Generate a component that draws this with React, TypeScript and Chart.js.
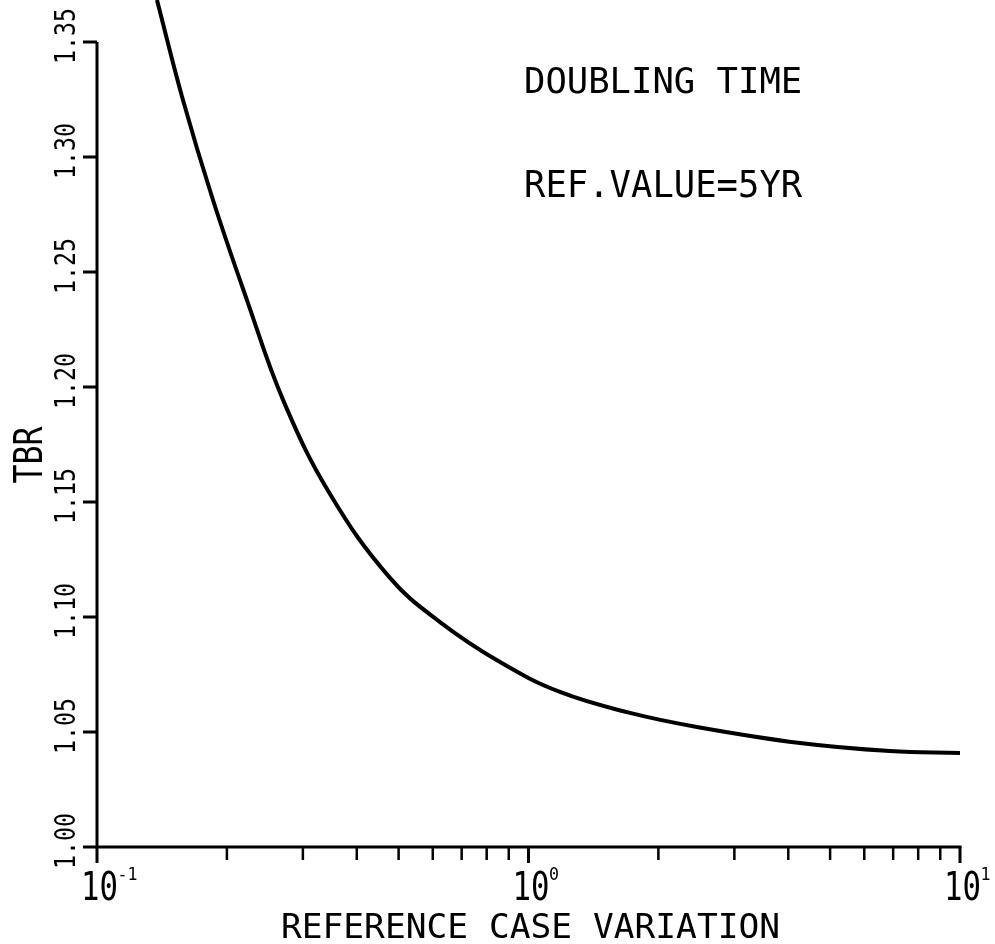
import React, { useEffect, useRef } from "react";
import { Chart, registerables } from "chart.js";

Chart.register(...registerables);

// ---- data ----
const caseVariation = [0.1377, 0.1582, 0.1857, 0.2226, 0.27, 0.3467, 0.4775, 0.6236, 0.859, 1.183, 1.719, 2.456, 4.26, 6.88, 10];
const tbr = [1.3683, 1.3248, 1.2813, 1.2378, 1.1943, 1.1535, 1.117, 1.0978, 1.0804, 1.0674, 1.0583, 1.0522, 1.0452, 1.0417, 1.0409];

const yTickValues = [1.0, 1.05, 1.1, 1.15, 1.2, 1.25, 1.3, 1.35];
const yTickLabels = ["1.00", "1.05", "1.10", "1.15", "1.20", "1.25", "1.30", "1.35"];
const xMajorTicks = [0.1, 1, 10];
const xMajorBase = ["10", "10", "10"];
const xMajorExp = ["-1", "0", "1"];
const xMinorTicks = [0.2, 0.3, 0.4, 0.5, 0.6, 0.7, 0.8, 0.9, 2, 3, 4, 5, 6, 7, 8, 9];
const annotationLines = ["DOUBLING TIME", "REF.VALUE=5YR"];
const xTitle = "REFERENCE CASE VARIATION";
const yTitle = "TBR";

const FONT = '"DejaVu Sans Mono", "Liberation Mono", monospace';

function drawText(
  ctx: CanvasRenderingContext2D,
  text: string,
  x: number,
  y: number,
  cap: number,
  adv: number,
  align: CanvasTextAlign,
  rot = 0
) {
  const size = cap / 0.729;
  ctx.save();
  ctx.font = `${size}px ${FONT}`;
  const natural = ctx.measureText("M").width;
  const sx = adv / natural;
  ctx.translate(x, y);
  ctx.rotate(rot);
  ctx.scale(sx, 1);
  ctx.textBaseline = "alphabetic";
  ctx.textAlign = align;
  ctx.fillStyle = "#000";
  ctx.fillText(text, 0, 0);
  ctx.restore();
}

const axesPlugin = {
  id: "plotterAxes",
  afterDraw(chart: any) {
    const ctx: CanvasRenderingContext2D = chart.ctx;
    const xs = chart.scales.x;
    const ys = chart.scales.y;
    const x0 = xs.getPixelForValue(0.1);
    const x1 = xs.getPixelForValue(10);
    const yBottom = ys.getPixelForValue(yTickValues[0]);
    const yTop = ys.getPixelForValue(yTickValues[yTickValues.length - 1]);

    ctx.save();
    ctx.strokeStyle = "#000";
    ctx.lineWidth = 3;
    ctx.lineCap = "butt";

    // axis lines
    ctx.beginPath();
    ctx.moveTo(x0, yTop);
    ctx.lineTo(x0, yBottom);
    ctx.moveTo(x0 - 1.5, yBottom);
    ctx.lineTo(x1 + 1.5, yBottom);
    ctx.stroke();

    // y ticks
    ctx.beginPath();
    yTickValues.forEach((v) => {
      const py = ys.getPixelForValue(v);
      ctx.moveTo(x0 - 14, py);
      ctx.lineTo(x0, py);
    });
    ctx.stroke();

    // x ticks
    ctx.beginPath();
    xMajorTicks.forEach((v) => {
      const px = xs.getPixelForValue(v);
      ctx.moveTo(px, yBottom);
      ctx.lineTo(px, yBottom + 16);
    });
    ctx.stroke();
    ctx.lineWidth = 2.5;
    ctx.beginPath();
    xMinorTicks.forEach((v) => {
      const px = xs.getPixelForValue(v);
      ctx.moveTo(px, yBottom);
      ctx.lineTo(px, yBottom + 13);
    });
    ctx.stroke();
    ctx.restore();

    // y tick labels (rotated)
    yTickValues.forEach((v, i) => {
      const py = ys.getPixelForValue(v);
      drawText(ctx, yTickLabels[i], 75, py - 6, 21, 14, "center", -Math.PI / 2);
    });

    // x tick labels with exponents
    xMajorTicks.forEach((v, i) => {
      const px = xs.getPixelForValue(v) + 2.5;
      drawText(ctx, xMajorBase[i], px, 900, 29, 18.5, "center");
      drawText(ctx, xMajorExp[i], px + 18, 880, 13, 10, "left");
    });

    // axis titles
    drawText(ctx, xTitle, (x0 + x1) / 2 + 2, 938, 25, 20.8, "center");
    drawText(ctx, yTitle, 42, 455, 29, 19, "center", -Math.PI / 2);

    // annotation
    drawText(ctx, annotationLines[0], 524, 93, 26, 21.4, "left");
    drawText(ctx, annotationLines[1], 524, 197, 27, 21.4, "left");
  },
};

export default function App() {
  const canvasRef = useRef<HTMLCanvasElement | null>(null);

  useEffect(() => {
    const canvas = canvasRef.current;
    if (!canvas) return;
    const points = caseVariation.map((x, i) => ({ x, y: tbr[i] }));
    const chart = new Chart(canvas, {
      type: "line",
      data: {
        datasets: [
          {
            data: points,
            borderColor: "#000",
            borderWidth: 4,
            pointRadius: 0,
            fill: false,
            tension: 0.4,
          },
        ],
      },
      options: {
        responsive: false,
        animation: false,
        devicePixelRatio: 1,
        layout: { padding: { left: 97, right: 35, top: 0, bottom: 97 } },
        plugins: { legend: { display: false }, tooltip: { enabled: false } },
        events: [],
        scales: {
          x: { type: "logarithmic", min: 0.1, max: 10, display: false },
          y: { type: "linear", min: 1.0, max: 1.35 + 42 / 2300, display: false },
        },
      },
      plugins: [axesPlugin],
    } as any);
    return () => chart.destroy();
  }, []);

  return (
    <div style={{ position: "fixed", left: 0, top: 0, width: 995, height: 944, background: "#fff" }}>
      <canvas ref={canvasRef} width={995} height={944} style={{ width: 995, height: 944, display: "block" }} />
    </div>
  );
}
